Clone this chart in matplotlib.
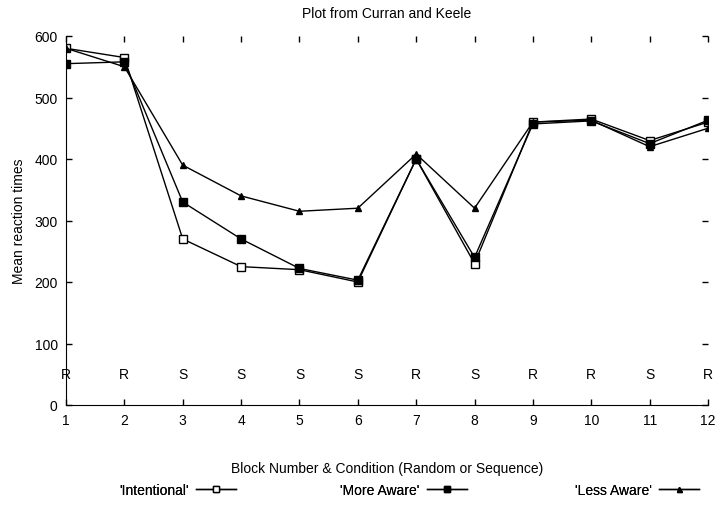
import matplotlib.pyplot as plt
import numpy as np

plt.rcParams['font.family'] = ['Liberation Sans', 'DejaVu Sans']
plt.rcParams['font.size'] = 10

blocks = np.arange(1, 13)
conditions = ['R', 'R', 'S', 'S', 'S', 'S', 'R', 'S', 'R', 'R', 'S', 'R']
intentional = [580, 565, 270, 225, 220, 200, 400, 230, 460, 465, 430, 460]
more_aware = [555, 558, 330, 270, 222, 203, 400, 240, 457, 462, 425, 463]
less_aware = [580, 550, 390, 340, 315, 320, 408, 320, 460, 463, 420, 450]

fig = plt.figure(figsize=(7.16, 5.06), dpi=100)
ax = fig.add_axes([66 / 716, 100 / 506, 642 / 716, 369 / 506])

l1, = ax.plot(blocks, intentional, color='black', lw=1, marker='s', ms=6,
              mfc='white', mec='black', mew=1, label="'Intentional'")
l2, = ax.plot(blocks, more_aware, color='black', lw=1, marker='s', ms=6,
              mfc='black', mec='black', label="'More Aware'")
l3, = ax.plot(blocks, less_aware, color='black', lw=1, marker='^', ms=4.5,
              mfc='black', mec='black', label="'Less Aware'")

for b, c in zip(blocks, conditions):
    ax.text(b, 50, c, ha='center', va='center')

ax.set_xlim(1, 12)
ax.set_ylim(0, 600)
ax.set_xticks(blocks)
ax.set_yticks(np.arange(0, 601, 100))
ax.tick_params(direction='in', length=4, width=1, top=True, right=True)
ax.tick_params(axis='x', pad=6)
ax.tick_params(axis='y', pad=6)
ax.spines['top'].set_visible(False)
ax.spines['right'].set_visible(False)
ax.set_ylabel('Mean reaction times', labelpad=6)
ax.set_xlabel('Block Number & Condition (Random or Sequence)', labelpad=24)
ax.set_title('Plot from Curran and Keele', fontsize=10, pad=14)

# gnuplot-style key: label then sample, three fixed slots below the axes
for handle, x_end in [(l1, 236), (l2, 467), (l3, 699)]:
    leg = fig.legend(handles=[handle], loc='center right',
                     bbox_to_anchor=(x_end / 716, 1 - 491 / 506),
                     frameon=False, markerfirst=False, handlelength=2.9,
                     handletextpad=0.5, borderpad=0, borderaxespad=0,
                     markerscale=0.8)
    fig.add_artist(leg)

fig.savefig('out.png', dpi=100)
